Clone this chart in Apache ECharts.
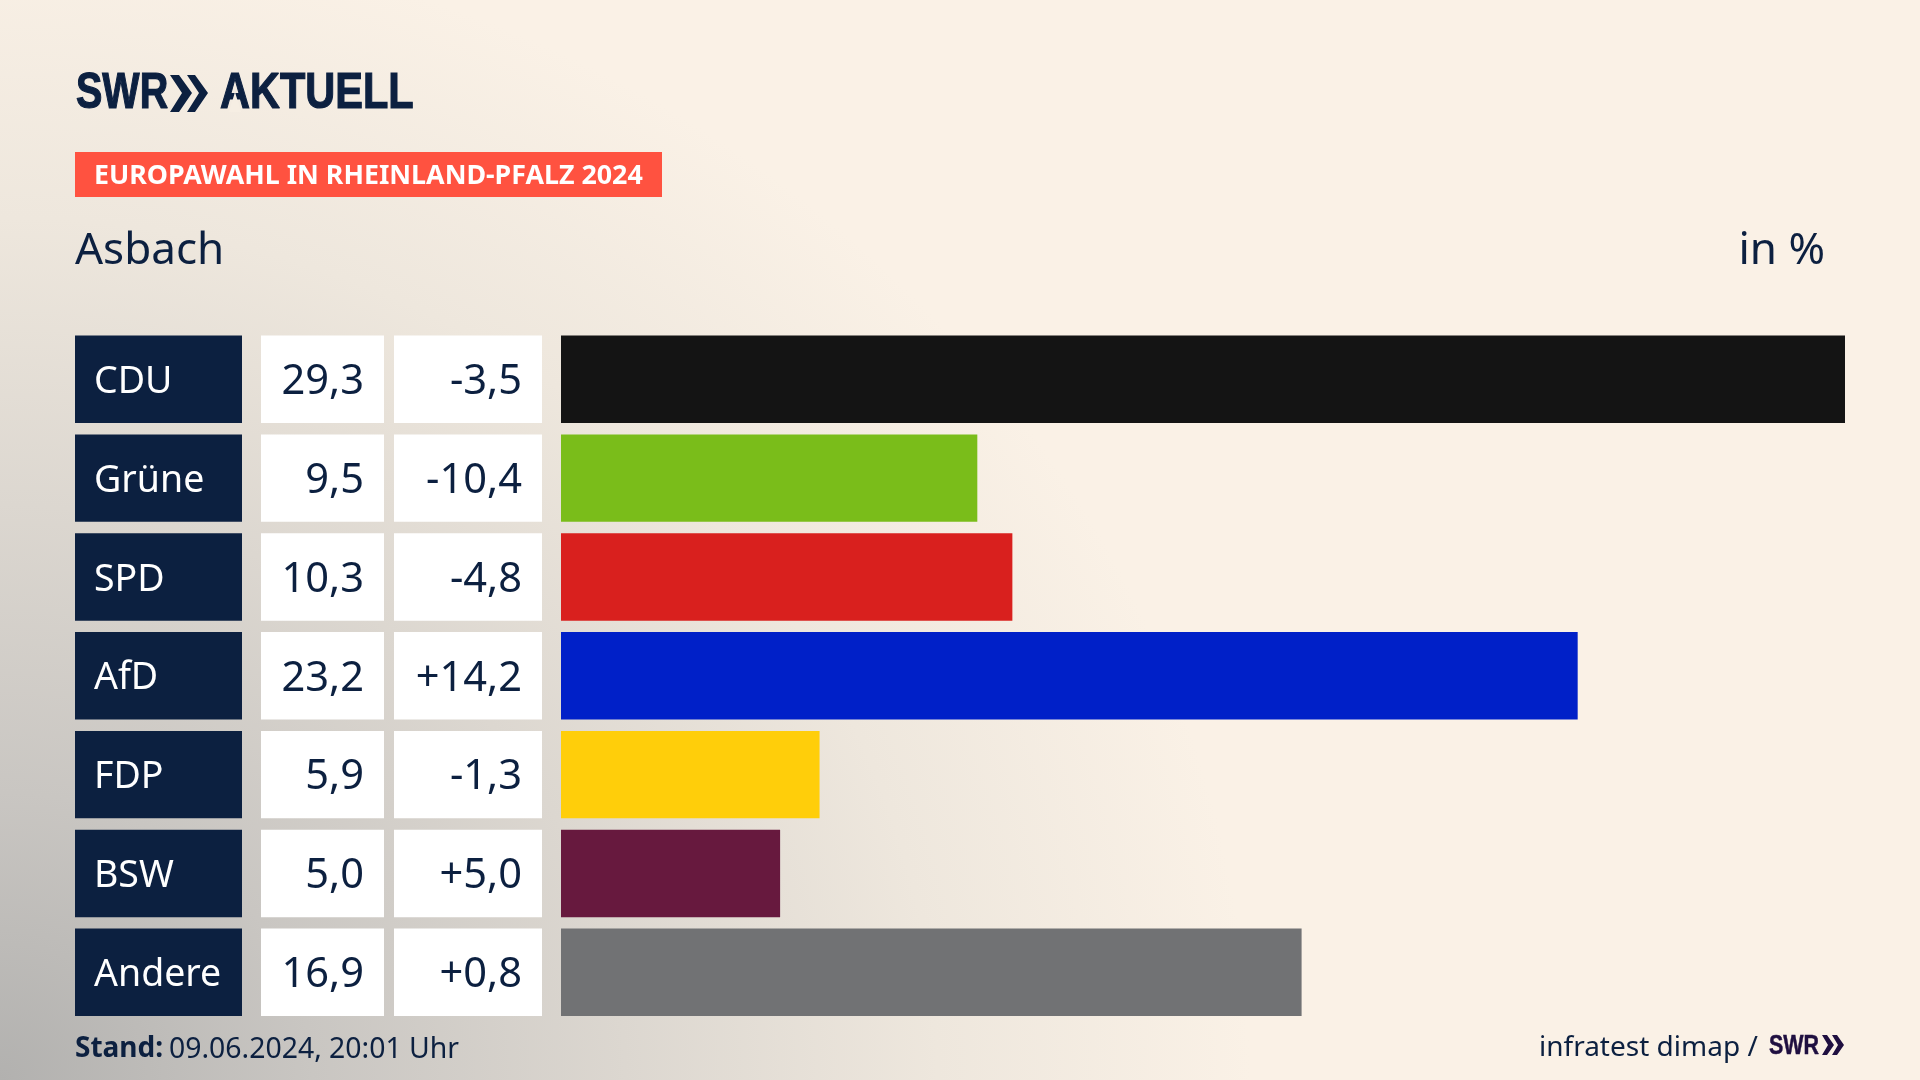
<!DOCTYPE html>
<html><head><meta charset="utf-8">
<script src="https://cdn.jsdelivr.net/npm/echarts@6/dist/echarts.min.js"></script>
<style>
html,body{margin:0;padding:0;width:1920px;height:1080px;overflow:hidden;background:#FAF1E6}
#bg{position:absolute;inset:0;background:
 radial-gradient(ellipse 1250px 1150px at 0% 100%, #b2b1af 0%, #c9c6c2 25%, #dcd7d0 50%, #eee7dd 75%, rgba(250,241,230,0) 100%), #FAF1E6;}
#c{position:absolute;left:0;top:0;width:1920px;height:1080px}
</style></head><body><div id="bg"></div><div id="c"></div>
<script>
const categories=['CDU','Grüne','SPD','AfD','FDP','BSW','Andere'];
const shares=[29.3,9.5,10.3,23.2,5.9,5.0,16.9];
const changes=[-3.5,-10.4,-4.8,14.2,-1.3,5.0,0.8];
const barColors=['#141414','#7ABD1A','#D9201E','#0020C8','#FFCE0A','#67193E','#717274'];

const NAVY='#0C2040', BODY='"Noto Sans"', LOGO='"Liberation Sans"';
const fmt=v=>v.toFixed(1).replace('.',',');
const fmtSigned=v=>(v>0?'+':'')+fmt(v);

function cells(params,api){
  const i=params.dataIndex;
  const cy=api.coord([0,i])[1];
  const h=api.size([0,1])[1]*0.885;
  const top=cy-h/2;
  const rect=(x,w,fill)=>({type:'rect',shape:{x,y:top,width:w,height:h},style:{fill}});
  const txt=(x,text,fill,align,size)=>({type:'text',style:{x,y:cy+3,text,fill,align,verticalAlign:'middle',font:'400 '+size+'px '+BODY}});
  return {type:'group',children:[
    rect(75,167,NAVY),rect(261,123,'#fff'),rect(394,148,'#fff'),
    txt(94,categories[i],'#fff','left',37.5),
    txt(364,fmt(shares[i]),NAVY,'right',41.6),
    txt(522,fmtSigned(changes[i]),NAVY,'right',41.6)
  ]};
}
const chev=(pts,fill)=>({type:'polygon',shape:{points:pts},style:{fill}});
const chart=echarts.init(document.getElementById('c'),null,{width:1920,height:1080});
chart.setOption({
  animation:false,
  backgroundColor:'transparent',
  grid:{left:561,width:1284,top:329.9,height:691.8},
  xAxis:{type:'value',min:0,max:29.3,show:false},
  yAxis:{type:'category',data:categories,inverse:true,show:false},
  series:[
    {type:'bar',barWidth:'88.5%',data:shares.map((v,i)=>({value:v,itemStyle:{color:barColors[i]}})),silent:true},
    {type:'custom',clip:false,silent:true,data:categories.map((c,i)=>[0,i]),encode:{x:0,y:1},renderItem:cells}
  ],
  graphic:[
    {type:'text',x:76,y:94.5,scaleX:0.79,style:{text:'SWR',fill:NAVY,stroke:NAVY,lineWidth:1.2,font:'700 50px '+LOGO,verticalAlign:'middle'}},
    chev([[170,75],[179,75],[192,93],[179,112],[170,112],[182,93]],NAVY),
    chev([[187,75],[195,75],[208,93],[195,112],[187,112],[199,93]],NAVY),
    {type:'text',x:220,y:94.5,scaleX:0.83,style:{text:'AKTUELL',fill:NAVY,stroke:NAVY,lineWidth:1.2,font:'700 50px '+LOGO,verticalAlign:'middle'}},
    chev([[235,92],[229,112],[241,112]],'#F6EEE3'),
    {type:'rect',shape:{x:75,y:152,width:587,height:45},style:{fill:'#FF5240'}},
    {type:'text',x:94,y:176,style:{text:'EUROPAWAHL IN RHEINLAND-PFALZ 2024',fill:'#fff',font:'700 26.8px '+BODY,verticalAlign:'middle'}},
    {type:'text',x:75,y:251.5,style:{text:'Asbach',fill:NAVY,font:'400 44px '+BODY,verticalAlign:'middle'}},
    {type:'text',x:1825,y:251.5,style:{text:'in %',fill:NAVY,align:'right',font:'400 44px '+BODY,verticalAlign:'middle'}},
    {type:'text',x:75,y:1049.5,style:{text:'Stand:',fill:NAVY,font:'700 28px '+BODY,verticalAlign:'middle'}},
    {type:'text',x:169,y:1049.5,style:{text:'09.06.2024, 20:01 Uhr',fill:NAVY,font:'400 28.4px '+BODY,verticalAlign:'middle'}},
    {type:'text',x:1539,y:1048,style:{text:'infratest dimap /',fill:NAVY,font:'400 28px '+BODY,verticalAlign:'middle'}},
    {type:'text',x:1769,y:1046,scaleX:0.78,style:{text:'SWR',fill:'#1F0F40',stroke:'#1F0F40',lineWidth:0.5,font:'700 27.5px '+LOGO,verticalAlign:'middle'}},
    chev([[1822,1035],[1827,1035],[1834,1045],[1827,1055],[1822,1055],[1828,1045]],'#1F0F40'),
    chev([[1832,1035],[1837,1035],[1844,1045],[1837,1055],[1832,1055],[1838,1045]],'#1F0F40')
  ]
});
</script></body></html>
